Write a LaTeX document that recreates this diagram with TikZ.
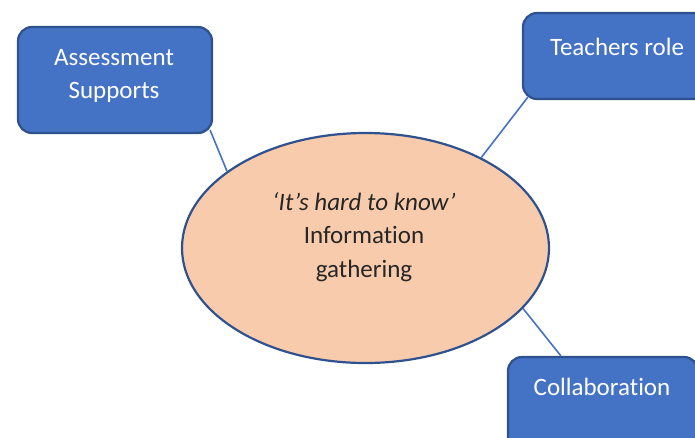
\documentclass[tikz,border=0pt]{standalone}
\usepackage{fontspec}
\setmainfont{Carlito}[Ligatures={NoCommon}]
\usetikzlibrary{shapes.geometric}
\definecolor{boxfill}{HTML}{4472C4}
\definecolor{boxedge}{HTML}{2F528F}
\definecolor{bubble}{HTML}{F8CBAD}
\definecolor{ink}{HTML}{262626}

\begin{document}
\begin{tikzpicture}[x=1pt,y=-1pt,
  topic/.style={draw=boxedge, fill=boxfill, line width=2.2pt, rounded corners=14pt, inner sep=0pt},
  topictext/.style={text=white, font=\fontsize{25}{33}\selectfont, align=center, inner sep=0pt},
  hub/.style={ellipse, draw=boxedge, fill=bubble, line width=2.2pt, inner sep=0pt,
              minimum width=367pt, minimum height=230pt},
  hubtext/.style={text=ink, font=\fontsize{25}{33.5}\selectfont, align=center, inner sep=0pt},
  link/.style={draw=boxfill, line width=1.6pt}]
\path[use as bounding box] (0,0) rectangle (695,437);
\clip (0,0) rectangle (695,437);

% central bubble
\node[hub] (hub) at (365.5,248) {};
\node[hubtext, anchor=north] (hub-t) at (364,192)
  {\itshape ‘It’s hard to know’\\Information\\gathering};

% surrounding topics
\node[topic, minimum width=194pt, minimum height=106pt] (as) at (115,80) {};
\node[topictext, anchor=north] (as-t) at (114,49) {Assessment\\Supports};

\node[topic, minimum width=188pt, minimum height=86pt] (tr) at (617,56) {};
\node[topictext, anchor=base] (tr-t) at (617,55) {Teachers role};

\node[topic, minimum width=190pt, minimum height=103pt] (co) at (603,408.5) {};
\node[topictext, anchor=base] (co-t) at (602,395) {Collaboration};

% connectors
\draw[link] ([xshift=-3pt,yshift=4pt]as.south east) -- (hub.151);
\draw[link] ([xshift=6pt,yshift=3pt]tr.south west) -- (hub.38);
\draw[link] ([xshift=54pt]co.north west) -- (hub.339);
\end{tikzpicture}
\end{document}
